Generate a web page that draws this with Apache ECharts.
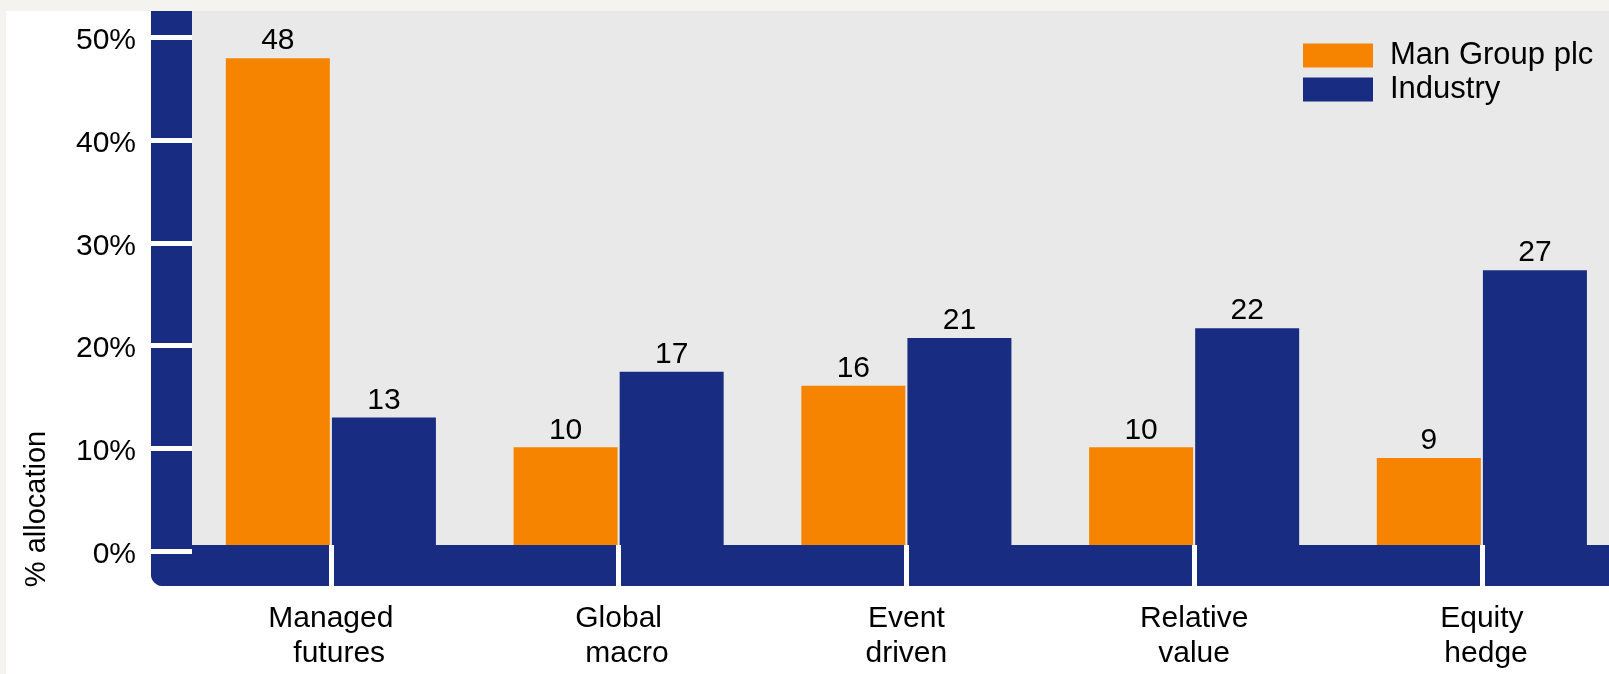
<!DOCTYPE html>
<html>
<head>
<meta charset="utf-8">
<script src="https://cdn.jsdelivr.net/npm/echarts@6/dist/echarts.min.js"></script>
<style>
  html, body { margin: 0; padding: 0; background: #f5f3f0; overflow: hidden; }
  #chart { position: absolute; left: 6px; top: 11px; width: 1650px; height: 663px; }
</style>
</head>
<body>
<div id="chart"></div>
<script>
const categories = ['Managed\n  futures', 'Global\n  macro', 'Event\ndriven', 'Relative\nvalue', 'Equity\n hedge'];
const manGroup = [48, 10.1, 16.1, 10.1, 9.05];
const industry = [13, 17.45, 20.75, 21.7, 27.35];
const yTicks = [0, 10, 20, 30, 40, 50];
const seriesNames = ['Man Group plc', 'Industry'];
const axisTitle = '% allocation';

const NAVY = '#182d82';
const ORANGE = '#f78400';
const FONT = 'Liberation Sans, Arial, sans-serif';

const chart = echarts.init(document.getElementById('chart'), null, { renderer: 'canvas' });

const gridLeft = 181, gridTop = 0, gridW = 1438.75, gridH = 540;
const yOffset = 36, xOffset = 35, frameW = 41;

const option = {
  backgroundColor: '#ffffff',
  animation: false,
  textStyle: { fontFamily: FONT },
  grid: {
    left: gridLeft, top: gridTop, width: gridW, height: gridH,
    show: true, backgroundColor: '#e9e9e9', borderWidth: 0,
    outerBoundsMode: 'none'
  },
  legend: {
    data: seriesNames,
    orient: 'vertical',
    left: 1292, top: 24,
    itemWidth: 70, itemHeight: 24, itemGap: 3,
    icon: 'rect',
    selectedMode: false,
    textStyle: { fontSize: 31, color: '#000', fontFamily: FONT, padding: [0, 0, 0, 12] }
  },
  xAxis: {
    type: 'category',
    data: categories,
    offset: xOffset,
    z: 10,
    axisLine: { show: false, onZero: false },
    axisTick: {
      show: true, alignWithLabel: true, inside: true, length: frameW,
      lineStyle: { color: '#ffffff', width: 5 }
    },
    axisLabel: { margin: 15, fontSize: 30, lineHeight: 35, color: '#000', fontFamily: FONT },
    splitLine: { show: false }
  },
  yAxis: {
    type: 'value',
    min: 0, max: 52.6, interval: 10,
    offset: yOffset,
    z: 10,
    axisLine: { show: false },
    splitLine: { show: false },
    axisTick: {
      show: true, inside: true, length: frameW, customValues: yTicks,
      lineStyle: { color: '#ffffff', width: 5 }
    },
    axisLabel: {
      customValues: yTicks, formatter: '{value}%', margin: 15,
      fontSize: 30, color: '#000', fontFamily: FONT, verticalAlign: 'top', lineHeight: 7
    }
  },
  series: [
    {
      name: seriesNames[0], type: 'bar', data: manGroup,
      barWidth: 104, barGap: '2%',
      itemStyle: { color: ORANGE },
      label: { show: true, position: 'top', distance: 2, fontSize: 30, color: '#000', fontFamily: FONT,
               formatter: p => Math.round(p.value) }
    },
    {
      name: seriesNames[1], type: 'bar', data: industry,
      barWidth: 104, barGap: '2%',
      itemStyle: { color: NAVY },
      label: { show: true, position: 'top', distance: 2, fontSize: 30, color: '#000', fontFamily: FONT,
               formatter: p => Math.round(p.value) }
    }
  ],
  graphic: [
    {
      type: 'rect', z: 3, silent: true,
      shape: { x: gridLeft - yOffset, y: 0, width: frameW, height: gridH + xOffset, r: [0, 0, 0, 12] },
      style: { fill: NAVY }
    },
    {
      type: 'rect', z: 3, silent: true,
      shape: { x: gridLeft - yOffset, y: gridH + xOffset - frameW, width: 1650 - (gridLeft - yOffset), height: frameW, r: [0, 0, 0, 12] },
      style: { fill: NAVY }
    },
    {
      type: 'text', z: 3, silent: true,
      x: 31, y: 498, rotation: Math.PI / 2,
      style: { text: axisTitle, font: '29px ' + FONT, fill: '#000', align: 'center', verticalAlign: 'middle' }
    }
  ]
};
chart.setOption(option);
</script>
</body>
</html>
